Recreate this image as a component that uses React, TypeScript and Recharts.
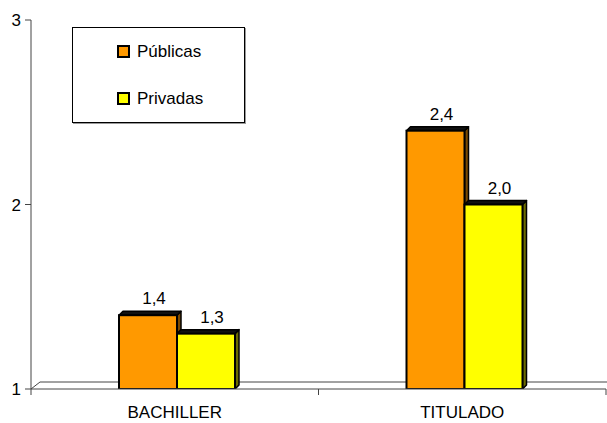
import React from 'react'
import { BarChart, Bar, XAxis, YAxis, Legend, LabelList, ReferenceArea } from 'recharts'

// chart values
const categories = ['BACHILLER', 'TITULADO']
const seriesNames = ['Públicas', 'Privadas']
const publicas = [1.4, 2.4]
const privadas = [1.3, 2.0]
const yTicks = [1, 2, 3]

const data = categories.map((name, i) => ({
  name,
  publicas: publicas[i],
  privadas: privadas[i]
}))

const FONT = '"Liberation Sans", Arial, sans-serif'
const FS = 17
const DEPTH = 4
const SHIFT = 2 // front faces sit a bit right of the band centre in the old 3D look
const AXIS = '#444'

const fmt = (v: number) => v.toFixed(1).replace('.', ',')

/** Front face plus top and right faces, like the old 3D column look */
const Bar3D = (props: any) => {
  const { y, width: w, height: h, fill, side } = props
  if (w == null || h == null) return null
  const x = props.x + SHIFT
  const d = DEPTH
  return (
    <g>
      <polygon
        points={`${x + w},${y} ${x + w + d},${y - d} ${x + w + d},${y + h - d} ${x + w},${y + h}`}
        fill={side}
        stroke="#000"
        strokeWidth={1.5}
        strokeLinejoin="round"
      />
      <polygon
        points={`${x},${y} ${x + d},${y - d} ${x + w + d},${y - d} ${x + w},${y}`}
        fill="#111"
        stroke="#000"
        strokeWidth={1.5}
        strokeLinejoin="round"
      />
      <rect x={x} y={y} width={w} height={h} fill={fill} stroke="#000" strokeWidth={2} />
    </g>
  )
}

const ValueLabel = (props: any) => {
  const { x, y, width, value } = props
  return (
    <text
      x={x + width / 2 + SHIFT + 6}
      y={y - 11}
      textAnchor="middle"
      fontFamily={FONT}
      fontSize={FS}
      fill="#000"
    >
      {fmt(value)}
    </text>
  )
}

// floor of the 3D plot, drawn from the value 1 line
const Floor = (props: any) => {
  const { x, y, width } = props
  const back = 7
  return (
    <g stroke={AXIS} strokeWidth={1} fill="none">
      <polyline points={`${x},${y} ${x + 9},${y - back} ${x + width + 1},${y - back}`} />
    </g>
  )
}

const CategoryTick = (props: any) => {
  const { x, y, payload } = props
  const half = payload?.offset ?? 0
  const axisY = y - 6
  return (
    <g>
      <line x1={x - half} y1={axisY} x2={x - half} y2={axisY + 6} stroke={AXIS} />
      <line x1={x + half} y1={axisY} x2={x + half} y2={axisY + 6} stroke={AXIS} />
      <text x={x} y={axisY + 29} textAnchor="middle" fontFamily={FONT} fontSize={FS} fill="#000">
        {payload.value}
      </text>
    </g>
  )
}

const LegendBox = (props: any) => {
  const { payload = [] } = props
  const items = [...payload].sort(
    (a: any, b: any) => seriesNames.indexOf(a.value) - seriesNames.indexOf(b.value)
  )
  return (
    <div
      style={{
        width: 173,
        height: 96,
        boxSizing: 'border-box',
        border: '1px solid #000',
        boxShadow: '1px 1px 0 #999',
        background: '#fff',
        paddingTop: 0,
        paddingLeft: 44
      }}
    >
      {items.map((item: any) => (
        <div
          key={item.value}
          style={{ display: 'flex', alignItems: 'center', height: 47 }}
        >
          <span
            style={{
              display: 'inline-block',
              width: 9,
              height: 9,
              border: '2px solid #000',
              background: item.color,
              marginRight: 7
            }}
          />
          <span style={{ fontFamily: FONT, fontSize: FS, color: '#000' }}>{item.value}</span>
        </div>
      ))}
    </div>
  )
}

export default function App() {
  return (
    <div style={{ position: 'absolute', left: 0, top: 0, background: '#fff' }}>
      <BarChart
        width={607}
        height={423}
        data={data}
        margin={{ top: 20, right: 1, bottom: 0, left: 0 }}
        barGap={0}
        barSize={58}
      >
        <XAxis
          dataKey="name"
          height={34}
          axisLine={{ stroke: AXIS }}
          tickLine={false}
          tickSize={6}
          tickMargin={0}
          tick={<CategoryTick />}
          interval={0}
        />
        <YAxis
          type="number"
          domain={[1, 3]}
          ticks={yTicks}
          width={31}
          tickSize={6}
          tickMargin={4}
          axisLine={{ stroke: AXIS }}
          tickLine={{ stroke: AXIS }}
          tick={{ fill: '#000', fontSize: FS, fontFamily: FONT }}
          allowDataOverflow
        />
        <ReferenceArea y1={1} y2={1} shape={<Floor />} ifOverflow="visible" />
        <Legend
          layout="vertical"
          align="center"
          verticalAlign="middle"
          content={<LegendBox />}
          wrapperStyle={{ position: 'absolute', left: 72, top: 27, width: 173, height: 96 }}
        />
        <Bar
          dataKey="publicas"
          name={seriesNames[0]}
          fill="#FF9900"
          isAnimationActive={false}
          shape={(p: any) => <Bar3D {...p} side="#7a4900" />}
        >
          <LabelList dataKey="publicas" content={<ValueLabel />} />
        </Bar>
        <Bar
          dataKey="privadas"
          name={seriesNames[1]}
          fill="#FFFF00"
          isAnimationActive={false}
          shape={(p: any) => <Bar3D {...p} side="#6b6b00" />}
        >
          <LabelList dataKey="privadas" content={<ValueLabel />} />
        </Bar>
      </BarChart>
    </div>
  )
}
